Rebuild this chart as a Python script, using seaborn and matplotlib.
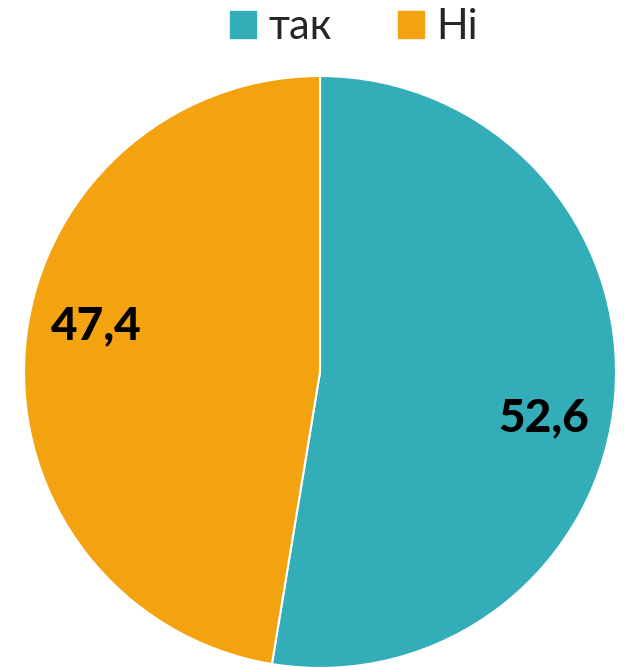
import numpy as np
import seaborn as sns
from matplotlib import pyplot as plt
import matplotlib.patches as mpatches

labels = ['так', 'Ні']
values = [52.6, 47.4]
colors = ['#33AEB8', '#F2A30F']

sns.set_style('white')
plt.rcParams['font.family'] = ['Lato', 'DejaVu Sans']

fig = plt.figure(figsize=(6.24, 6.70), dpi=100)
ax = fig.add_axes([0.0385, 0.003, 0.9487, 0.8836])

wedges, texts, autotexts = ax.pie(
    values, colors=colors, startangle=90, counterclock=False,
    autopct=lambda p: f'{p:.1f}'.replace('.', ','), pctdistance=0.77,
    wedgeprops=dict(edgecolor='white', linewidth=1.5),
    textprops=dict(fontsize=33, fontweight='black', color='black'))

# labels sit a little clockwise from slice middles
rot = np.deg2rad(-7)
for t in autotexts:
    x, y = t.get_position()
    t.set_position((x*np.cos(rot) - y*np.sin(rot), x*np.sin(rot) + y*np.cos(rot)))

ax.set_xlim(-1, 1)
ax.set_ylim(-1, 1)
ax.set_aspect('equal')

handles = [mpatches.Patch(color=c, label=l) for c, l in zip(colors, labels)]
fig.legend(handles=handles, loc='center', bbox_to_anchor=(0.567, 0.96), ncol=2,
           frameon=False, fontsize=30, handlelength=0.62, handleheight=0.62,
           handletextpad=0.3, columnspacing=1.6)

fig.savefig('out.png', dpi=100)
